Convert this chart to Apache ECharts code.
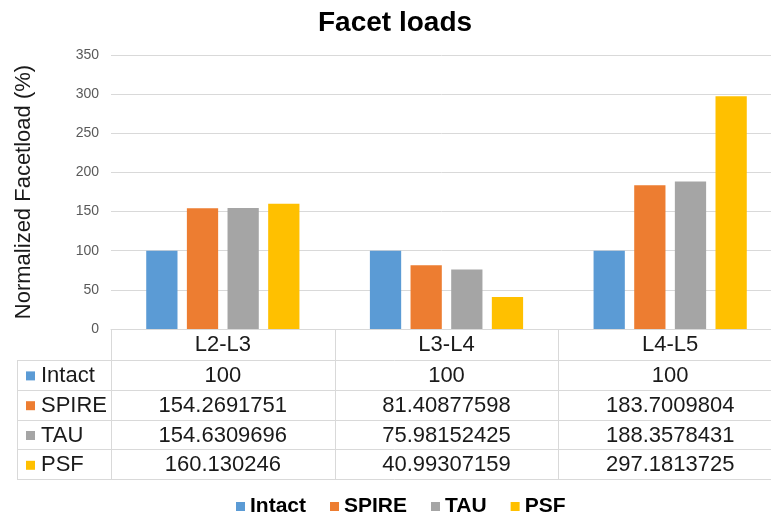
<!DOCTYPE html>
<html>
<head>
<meta charset="utf-8">
<script src="https://cdn.jsdelivr.net/npm/echarts@6/dist/echarts.min.js"></script>
<style>
html,body{margin:0;padding:0;background:#fff;overflow:hidden;}
#main{width:771px;height:514px;}
</style>
</head>
<body>
<div id="main"></div>
<script>
var categories = ['L2-L3', 'L3-L4', 'L4-L5'];
var seriesNames = ['Intact', 'SPIRE', 'TAU', 'PSF'];
var intact = [100, 100, 100];
var spire = [154.2691751, 81.40877598, 183.7009804];
var tau = [154.6309696, 75.98152425, 188.3578431];
var psf = [160.130246, 40.99307159, 297.1813725];
var tableLabels = [['100','100','100'],
                   ['154.2691751','81.40877598','183.7009804'],
                   ['154.6309696','75.98152425','188.3578431'],
                   ['160.130246','40.99307159','297.1813725']];
var colors = ['#5B9BD5', '#ED7D31', '#A5A5A5', '#FFC000'];
var allData = [intact, spire, tau, psf];

var FONT = '"Liberation Sans", Arial, sans-serif';
var chart = echarts.init(document.getElementById('main'));

var option = {
  animation: false,
  color: colors,
  title: {
    text: 'Facet loads', left: 318, top: 9, padding: 0,
    textStyle: { fontFamily: FONT, fontSize: 28, fontWeight: 'bold', color: '#000' }
  },
  legend: {
    data: seriesNames, top: 491, left: 231,
    icon: 'rect', itemWidth: 9, itemHeight: 9, itemGap: 24,
    textStyle: { fontFamily: FONT, fontSize: 21, fontWeight: 'bold', color: '#000' }
  },
  grid: { left: 111, width: 671, top: 55, height: 274, containLabel: false, outerBoundsMode: 'none' },
  xAxis: {
    type: 'category', data: categories,
    axisLine: { lineStyle: { color: '#d9d9d9', width: 1 } },
    axisTick: { show: false },
    axisLabel: { fontFamily: FONT, fontSize: 22, color: '#1a1a1a', margin: 5 }
  },
  yAxis: {
    type: 'value', min: 0, max: 350, interval: 50,
    name: 'Normalized Facetload (%)', nameLocation: 'middle', nameGap: 76,
    nameTextStyle: { fontFamily: FONT, fontSize: 22, color: '#1a1a1a' },
    axisLine: { show: false }, axisTick: { show: false },
    axisLabel: { fontFamily: FONT, fontSize: 14, color: '#595959', margin: 12 },
    splitLine: { lineStyle: { color: '#d9d9d9', width: 1 } }
  },
  series: seriesNames.map(function (n, i) {
    return { name: n, type: 'bar', data: allData[i], barGap: '30%', barCategoryGap: '31.5%' };
  })
};
chart.setOption(option);

// data table below the axis
var rowTop = 360, rowH = 29.8, rowsN = 4, labelLeft = 17;
var nCat = categories.length;
var c0 = chart.convertToPixel({ xAxisIndex: 0 }, categories[0]);
var c1 = chart.convertToPixel({ xAxisIndex: 0 }, categories[1]);
var band = c1 - c0;
var xStart = c0 - band / 2;
var xEnd = xStart + band * nCat;
var axisY = chart.convertToPixel({ yAxisIndex: 0 }, 0);
var tableBottom = rowTop + rowH * rowsN;
var lineStyle = { stroke: '#d9d9d9', lineWidth: 1 };
var els = [];
for (var r = 0; r <= rowsN; r++) {
  var y = Math.round(rowTop + rowH * r) + 0.5;
  els.push({ type: 'line', shape: { x1: labelLeft, y1: y, x2: xEnd, y2: y }, style: lineStyle, silent: true });
}
els.push({ type: 'line', shape: { x1: labelLeft + 0.5, y1: rowTop, x2: labelLeft + 0.5, y2: tableBottom }, style: lineStyle, silent: true });
for (var k = 0; k <= nCat; k++) {
  var x = Math.round(xStart + band * k) + 0.5;
  els.push({ type: 'line', shape: { x1: x, y1: axisY, x2: x, y2: tableBottom }, style: lineStyle, silent: true });
}
for (var r2 = 0; r2 < rowsN; r2++) {
  var cy = rowTop + rowH * r2 + rowH / 2 + 1;
  els.push({ type: 'rect', shape: { x: 26, y: cy - 4.5, width: 9, height: 9 }, style: { fill: colors[r2] }, silent: true });
  els.push({ type: 'text', x: 41, y: cy, style: { text: seriesNames[r2], font: '22px ' + FONT, fill: '#1a1a1a', textAlign: 'left', textVerticalAlign: 'middle', verticalAlign: 'middle' }, silent: true });
  for (var c = 0; c < nCat; c++) {
    var cx = xStart + band * c + band / 2;
    els.push({ type: 'text', x: cx, y: cy, style: { text: tableLabels[r2][c], font: '22px ' + FONT, fill: '#1a1a1a', textAlign: 'center', textVerticalAlign: 'middle', verticalAlign: 'middle' }, silent: true });
  }
}
chart.setOption({ graphic: { elements: els } });
</script>
</body>
</html>
